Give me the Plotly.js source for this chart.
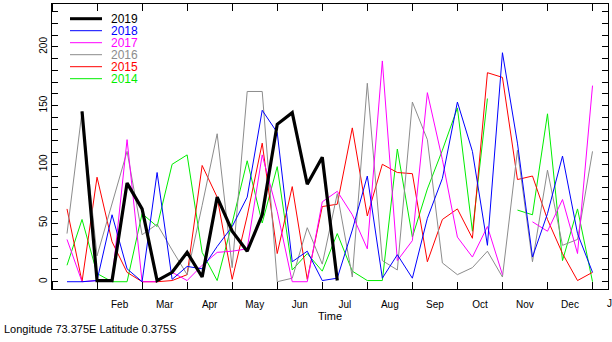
<!DOCTYPE html>
<html><head><meta charset="utf-8">
<script src="https://cdn.plot.ly/plotly-3.0.1.min.js"></script>
<style>html,body{margin:0;padding:0;background:#fff;overflow:hidden}#chart{width:612px;height:342px}</style>
</head><body><div id="chart"></div>
<script>
// ---- data (dekad index 1..36 of the year) ----
const dekads = [1,2,3,4,5,6,7,8,9,10,11,12,13,14,15,16,17,18,19,20,21,22,23,24,25,26,27,28,29,30,31,32,33,34,35,36];
const monthBoundaries = [0,3,6,9,12,15,18,21,24,27,30,33,36];
const monthCenters = [4.5,7.5,10.5,13.5,16.5,19.5,22.5,25.5,28.5,31.5,34.5];
const monthLabels = ['Feb','Mar','Apr','May','Jun','Jul','Aug','Sep','Oct','Nov','Dec'];
const yTickValues = [0,10,20,30,40,50,60,70,80,90,100,110,120,130,140,150,160,170,180,190,200,210,220,230];
const yTickLabels = ['0','','','','','50','','','','','100','','','','','150','','','','','200','','',''];

const years = ['2019','2018','2017','2016','2015','2014'];
const v2019 = [null,145,1,1,84,62,1,8,25,4,72,43,26,57,134,144,83,106,1,null,null,null,null,null,null,null,null,null,null,null,null,null,null,null,null,null];
const v2018 = [0,0,1,57,11,0,93,2,13,11,30,47,72,146,127,17,26,1,3,44,90,3,23,3,54,88,153,111,31,195,118,21,58,107,41,8];
const v2017 = [36,0,1,1,121,0,0,8,1,14,25,26,28,108,60,0,0,68,77,57,28,188,18,35,161,104,38,21,47,6,null,51,43,70,24,167];
const v2016 = [41,145,22,66,111,40,49,27,6,65,126,12,162,162,0,3,46,15,75,4,169,18,10,153,121,16,6,12,26,4,112,17,95,31,36,111];
const v2015 = [62,0,89,34,8,0,0,1,6,99,72,2,56,118,24,81,2,64,66,131,56,100,93,92,17,53,62,37,178,174,87,90,53,24,1,8];
const v2014 = [14,53,7,0,0,58,47,100,108,25,1,50,103,50,98,10,24,9,41,9,1,1,113,38,79,112,148,43,156,null,61,57,143,18,62,0];
const series = [v2019,v2018,v2017,v2016,v2015,v2014];

// ---- styles ----
const colors = ['#000000','#0000ff','#ff00ff','#8c8c8c','#ff0000','#00ee00'];
const widths = [3.2,1,1,1,1,1];
const FONT = '"Liberation Sans", Arial, Helvetica, sans-serif';
const X_MAX = 37.03;

// plot area geometry in pixels (for legend placement)
const L = 52, R = 4, T = 4, B = 53, W = 612, H = 342;
const pw = W - L - R, ph = H - T - B;
const px2paperX = p => (p - L) / pw;
const py2paperY = p => (H - B - p) / ph;

const traces = series.map((s, i) => ({
  x: dekads, y: s, type: 'scatter', mode: 'lines', name: years[i],
  line: {color: colors[i], width: widths[i]}, connectgaps: false,
  hoverinfo: 'skip', showlegend: false
}));
// draw thick 2019 on top
const ordered = traces.slice(1).reverse().concat([traces[0]]);

const shapes = [], annotations = [];
years.forEach((yr, i) => {
  const py = 18.7 + 12 * i;
  shapes.push({type: 'line', xref: 'paper', yref: 'paper',
    x0: px2paperX(70), x1: px2paperX(102), y0: py2paperY(py), y1: py2paperY(py),
    line: {color: colors[i], width: widths[i] === 1 ? 1 : 3}});
  annotations.push({xref: 'paper', yref: 'paper', x: px2paperX(109), y: py2paperY(py),
    xanchor: 'left', yanchor: 'middle', text: yr, showarrow: false,
    font: {family: FONT, size: 12, color: colors[i]}});
});
annotations.push({xref: 'paper', yref: 'paper', x: 37.5 / X_MAX, y: py2paperY(303.7),
  xanchor: 'center', yanchor: 'middle', text: 'Jan', showarrow: false,
  font: {family: FONT, size: 10, color: '#000'}});
annotations.push({xref: 'paper', yref: 'paper', x: px2paperX(2), y: py2paperY(329),
  xanchor: 'left', yanchor: 'middle', text: 'Longitude 73.375E Latitude 0.375S', showarrow: false,
  font: {family: FONT, size: 11, color: '#000'}});

const layout = {
  width: W, height: H,
  margin: {l: L, r: R, t: T, b: B, pad: 0},
  paper_bgcolor: '#fff', plot_bgcolor: '#fff',
  font: {family: FONT, size: 10, color: '#000'},
  showlegend: false,
  xaxis: {range: [0, X_MAX], tickmode: 'array', tickvals: monthCenters, ticktext: monthLabels,
    ticks: '', ticklabelstandoff: 6,
    tickfont: {family: FONT, size: 10, color: '#000'},
    minor: {tickmode: 'array', tickvals: monthBoundaries, ticks: 'inside', ticklen: 7,
      tickcolor: '#000', tickwidth: 1, showgrid: false},
    showline: true, linecolor: '#000', linewidth: 1, mirror: 'ticks',
    showgrid: false, zeroline: false, fixedrange: true,
    title: {text: 'Time', font: {family: FONT, size: 11, color: '#000'}, standoff: 1}},
  yaxis: {range: [-6.2, 236.5], tickmode: 'array', tickvals: yTickValues, ticktext: yTickLabels,
    ticks: 'inside', ticklen: 6, tickcolor: '#000', tickwidth: 1, tickangle: -90,
    tickfont: {family: FONT, size: 10, color: '#000'},
    showline: true, linecolor: '#000', linewidth: 1, mirror: 'ticks',
    showgrid: false, zeroline: false, fixedrange: true},
  shapes: shapes, annotations: annotations
};

Plotly.newPlot('chart', ordered, layout, {staticPlot: true, displayModeBar: false});
</script></body></html>
